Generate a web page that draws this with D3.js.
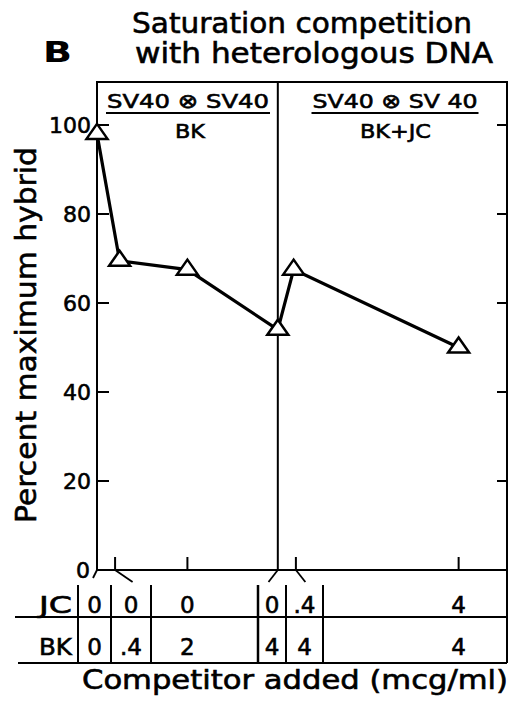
<!DOCTYPE html>
<html>
<head>
<meta charset="utf-8">
<script src="https://cdn.jsdelivr.net/npm/d3@7"></script>
<style>
  body { margin: 0; background: #fff; }
  text { font-family: "DejaVu Sans", "Liberation Sans", sans-serif; fill: #000; stroke: #000; stroke-width: 0.6px; }
</style>
</head>
<body>
<div id="chart"></div>
<script>
// competitor conditions (left panel: BK only, right panel: BK 4 + JC)
const CONDITION_POS = [0, 0.4, 2, 4, 4.4, 8];
const JC_VALUES = ["0", "0", "0", "0", ".4", "4"];
const BK_VALUES = ["0", ".4", "2", "4", "4", "4"];
// measured points
const POINT_POS = [0, 0.5, 2, 4, 4.35, 8];
const HYBRID = [98, 69.5, 67.5, 54, 67.5, 50];
const Y_TICKS = [0, 20, 40, 60, 80, 100];
const PANELS = [
  { top: "SV40 ⊗ SV40", bottom: "BK", from: 0, to: 4 },
  { top: "SV40 ⊗ SV 40", bottom: "BK+JC", from: 4, to: 9.07 }
];

const W = 516, H = 710;
const plot = { left: 97, right: 507, top: 82, bottom: 570 };

const svg = d3.select("#chart").append("svg")
  .attr("width", W)
  .attr("height", H);

const x = d3.scaleLinear().domain([0, 9.07]).range([plot.left, plot.right]);
const y = d3.scaleLinear().domain([0, 100]).range([plot.bottom, 125]);

////////////////// titles //////////////////
svg.append("text")
  .attr("x", 43).attr("y", 62)
  .style("font-size", "29px").style("font-weight", "bold").style("stroke", "none")
  .attr("textLength", 29).attr("lengthAdjust", "spacingAndGlyphs")
  .text("B");

svg.append("text")
  .attr("x", 132).attr("y", 33)
  .style("font-size", "28px")
  .attr("textLength", 340).attr("lengthAdjust", "spacingAndGlyphs")
  .text("Saturation competition");

svg.append("text")
  .attr("x", 135).attr("y", 63)
  .style("font-size", "28px")
  .attr("textLength", 358).attr("lengthAdjust", "spacingAndGlyphs")
  .text("with heterologous DNA");

////////////////// frame //////////////////
const frame = svg.append("g").attr("stroke", "#000").attr("stroke-width", 2).attr("fill", "none");
frame.append("path")
  .attr("d", `M${plot.left},${plot.bottom}V${plot.top}H${plot.right}V663`);
frame.append("line")
  .attr("x1", plot.left).attr("x2", plot.right)
  .attr("y1", plot.bottom).attr("y2", plot.bottom);
// panel divider
frame.append("line")
  .attr("x1", x(4)).attr("x2", x(4))
  .attr("y1", plot.top).attr("y2", plot.bottom);

////////////////// panel headers //////////////////
const headers = svg.selectAll("g.header")
  .data(PANELS)
  .enter().append("g")
  .attr("class", "header");

const headerCx = d => d.from === 0 ? 188 : 395;
const headerW = d => d.from === 0 ? 162 : 165;

headers.append("text")
  .attr("x", d => headerCx(d) - headerW(d) / 2).attr("y", 108)
  .style("font-size", "20px")
  .attr("textLength", headerW).attr("lengthAdjust", "spacingAndGlyphs")
  .text(d => d.top);

headers.append("line")
  .attr("x1", d => headerCx(d) - headerW(d) / 2 - 1)
  .attr("x2", d => headerCx(d) + headerW(d) / 2 + 1)
  .attr("y1", 113).attr("y2", 113)
  .attr("stroke", "#000").attr("stroke-width", 2);

headers.append("text")
  .attr("x", d => d.from === 0 ? 175 : 360).attr("y", 138)
  .style("font-size", "20px")
  .attr("textLength", d => d.from === 0 ? 30 : 71).attr("lengthAdjust", "spacingAndGlyphs")
  .text(d => d.bottom);

////////////////// y axis ticks //////////////////
const yt = svg.append("g");
yt.selectAll("line.left")
  .data(Y_TICKS.filter(d => d > 0))
  .enter().append("line")
  .attr("x1", plot.left).attr("x2", plot.left + 12)
  .attr("y1", d => y(d)).attr("y2", d => y(d))
  .attr("stroke", "#000").attr("stroke-width", 2);
yt.selectAll("line.right")
  .data(Y_TICKS.filter(d => d > 0))
  .enter().append("line")
  .attr("x1", plot.right).attr("x2", plot.right - 10)
  .attr("y1", d => y(d)).attr("y2", d => y(d))
  .attr("stroke", "#000").attr("stroke-width", 2);
yt.selectAll("text")
  .data(Y_TICKS)
  .enter().append("text")
  .attr("x", d => d === 0 ? 90 : 91)
  .attr("y", d => y(d))
  .attr("dy", "0.36em")
  .attr("text-anchor", "end")
  .style("font-size", "22px")
  .text(d => d);

svg.append("text")
  .attr("transform", "translate(36,523) rotate(-90)")
  .style("font-size", "29px")
  .attr("textLength", 376).attr("lengthAdjust", "spacingAndGlyphs")
  .text("Percent maximum hybrid");

////////////////// table under the x axis //////////////////
const CELL_EDGES = [78, 111, 151, 258, 286, 323, plot.right];
const cells = CONDITION_POS.map((p, i) => {
  const l = CELL_EDGES[i], r = CELL_EDGES[i + 1];
  const narrow = r - l < 60;
  return { pos: p, jc: JC_VALUES[i], bk: BK_VALUES[i], cx: narrow ? (l + r) / 2 : x(p), narrow };
});

const table = svg.append("g").attr("stroke", "#000").attr("stroke-width", 2);
table.append("line").attr("x1", 15).attr("x2", plot.right).attr("y1", 617).attr("y2", 617);
table.append("line").attr("x1", 18).attr("x2", plot.right).attr("y1", 663).attr("y2", 663);
table.selectAll("line.cell")
  .data(CELL_EDGES.slice(0, -1))
  .enter().append("line")
  .attr("x1", d => d).attr("x2", d => d)
  .attr("y1", 585).attr("y2", 663)
  .attr("stroke-width", (d, i) => i === 3 ? 2.5 : 2);

// upward ticks on x axis
table.selectAll("line.xtick")
  .data(cells.filter(c => c.pos !== 0 && c.pos !== 4))
  .enter().append("line")
  .attr("x1", d => x(d.pos)).attr("x2", d => x(d.pos))
  .attr("y1", plot.bottom).attr("y2", plot.bottom - 13);

// connectors from axis position to its table column
table.selectAll("line.conn")
  .data(cells.filter(c => c.narrow && Math.abs(c.cx - x(c.pos)) > 2))
  .enter().append("line")
  .attr("x1", d => x(d.pos)).attr("y1", plot.bottom)
  .attr("x2", d => x(d.pos) + (d.cx - x(d.pos)) * (d.cx > x(d.pos) ? 1.1 : 1.6))
  .attr("y2", d => d.pos === 0 ? 578 : 582)
  .attr("stroke-width", 1.8);

const rowLabels = [{ t: "JC", y: 613, key: "jc" }, { t: "BK", y: 655, key: "bk" }];
rowLabels.forEach(r => {
  svg.append("text")
    .attr("x", 39).attr("y", r.y)
    .style("font-size", "23px")
    .attr("textLength", 33).attr("lengthAdjust", "spacingAndGlyphs")
    .text(r.t);
  svg.selectAll(null)
    .data(cells)
    .enter().append("text")
    .attr("x", d => d.cx).attr("y", r.y)
    .attr("text-anchor", "middle")
    .style("font-size", "23px")
    .text(d => d[r.key]);
});

svg.append("text")
  .attr("x", 82).attr("y", 689)
  .style("font-size", "26px")
  .attr("textLength", 426).attr("lengthAdjust", "spacingAndGlyphs")
  .text("Competitor added (mcg/ml)");

////////////////// data //////////////////
const points = POINT_POS.map((p, i) => ({ p, v: HYBRID[i] }));

svg.append("path")
  .datum(points)
  .attr("fill", "none")
  .attr("stroke", "#000")
  .attr("stroke-width", 3.2)
  .attr("d", d3.line().x(d => x(d.p)).y(d => y(d.v)));

svg.selectAll("path.tri")
  .data(points)
  .enter().append("path")
  .attr("class", "tri")
  .attr("transform", d => `translate(${x(d.p)},${y(d.v)})`)
  .attr("d", "M0,-10L10.5,5H-10.5Z")
  .attr("fill", "#fff")
  .attr("stroke", "#000")
  .attr("stroke-width", 2.5)
  .attr("stroke-linejoin", "miter");
</script>
</body>
</html>
